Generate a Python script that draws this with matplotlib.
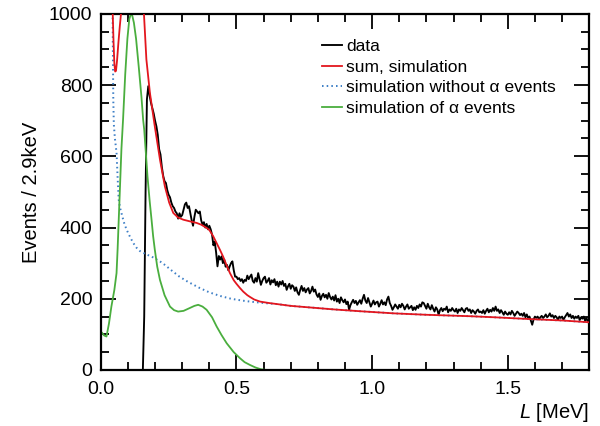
import matplotlib
matplotlib.use("Agg")
import matplotlib.pyplot as plt
from matplotlib.ticker import MultipleLocator
import numpy as np

plt.rcParams["font.family"] = ["Liberation Sans", "DejaVu Sans"]
plt.rcParams["mathtext.fontset"] = "custom"
plt.rcParams["mathtext.it"] = "Liberation Sans:italic"
plt.rcParams["mathtext.rm"] = "Liberation Sans"

# ── measured spectrum, 5 keV steps from 0.150 to 1.800 MeV ───────────────────
data_start, data_stop = 0.150, 1.800
data_counts = [
    0, 0, 150, 500, 760, 797, 770, 750, 735, 720,
    700, 684, 660, 620, 605, 570, 545, 530, 525, 505,
    492, 485, 470, 460, 455, 445, 440, 425, 440, 430,
    435, 450, 465, 470, 455, 460, 440, 420, 405, 430,
    450, 445, 440, 445, 420, 408, 415, 400, 410, 395,
    405, 395, 380, 350, 360, 330, 291, 320, 310, 319,
    300, 310, 290, 295, 280, 291, 300, 305, 280, 262,
    262, 255, 258, 250, 255, 245, 253, 250, 265, 255,
    262, 268, 250, 245, 258, 248, 272, 255, 239, 250,
    258, 262, 245, 250, 258, 240, 252, 246, 255, 238,
    248, 234, 248, 240, 250, 236, 242, 225, 235, 242,
    228, 238, 234, 222, 232, 218, 211, 225, 236, 222,
    230, 218, 226, 230, 215, 222, 234, 220, 226, 212,
    205, 215, 197, 208, 214, 204, 211, 200, 216, 205,
    198, 206, 195, 210, 192, 200, 188, 204, 196, 190,
    198, 185, 192, 169, 182, 190, 197, 188, 194, 183,
    190, 196, 186, 200, 211, 195, 188, 202, 190, 178,
    186, 195, 184, 190, 192, 178, 186, 196, 184, 190,
    182, 198, 206, 188, 180, 169, 176, 184, 178, 172,
    183, 176, 186, 180, 170, 178, 184, 172, 176, 180,
    168, 176, 169, 180, 174, 184, 178, 190, 188, 180,
    172, 186, 176, 170, 182, 172, 164, 176, 170, 155,
    168, 174, 165, 172, 169, 178, 162, 170, 166, 174,
    168, 164, 172, 160, 170, 166, 174, 168, 162, 172,
    174, 166, 170, 160, 168, 164, 158, 166, 170, 162,
    164, 160, 168, 158, 166, 172, 162, 169, 164, 174,
    166, 178, 166, 170, 160, 168, 162, 155, 164, 158,
    155, 162, 156, 166, 160, 152, 158, 164, 160, 154,
    158, 152, 160, 148, 156, 146, 150, 138, 127, 142,
    150, 146, 150, 142, 148, 152, 146, 150, 156, 148,
    152, 159, 150, 154, 146, 152, 148, 141, 150, 146,
    150, 141, 148, 154, 160, 150, 156, 146, 152, 144,
    150, 146, 152, 140, 148, 144, 150, 138, 146, 136,
    131,
]

# ── simulation, sum ───────────────────────────────────────────────────────────
sum_L = [0.000, 0.030, 0.044, 0.047, 0.050, 0.053, 0.056, 0.060, 0.065, 0.070,
         0.075, 0.090, 0.140, 0.155, 0.159, 0.168, 0.181, 0.199, 0.218, 0.236,
         0.252, 0.267, 0.285, 0.304, 0.330, 0.353, 0.370, 0.390, 0.400, 0.414,
         0.427, 0.440, 0.451, 0.463, 0.476, 0.490, 0.500, 0.513, 0.525, 0.540,
         0.550, 0.565, 0.587, 0.620, 0.660, 0.700, 0.780, 0.860, 0.955, 1.080,
         1.200, 1.360, 1.450, 1.580, 1.700, 1.800]
sum_counts = [1400, 1300, 1000, 920, 860, 838, 840, 870, 920, 965,
              1005, 1200, 1300, 1050, 1000, 872, 778, 684, 591, 516,
              470, 441, 428, 422, 417, 413, 408, 399, 393, 376,
              356, 336, 318, 295, 272, 252, 242, 230, 220, 210,
              205, 198, 192, 188, 184, 180, 175, 170, 165, 159,
              155, 151, 148, 143, 139, 134]

# ── simulation without alpha events ──────────────────────────────────────────
noalpha_L = [0.000, 0.043, 0.0445, 0.046, 0.048, 0.052, 0.058, 0.062, 0.066, 0.071,
             0.076, 0.085, 0.095, 0.105, 0.113, 0.122, 0.132, 0.144, 0.156, 0.170,
             0.193, 0.218, 0.236, 0.260, 0.290, 0.320, 0.365, 0.400, 0.439, 0.480,
             0.520, 0.550, 0.600, 0.650, 0.700, 0.780, 0.860, 0.955, 1.080, 1.200,
             1.360, 1.450, 1.580, 1.700, 1.800]
noalpha_counts = [1500, 1050, 900, 760, 690, 650, 610, 540, 478, 455,
                  441, 415, 394, 378, 366, 354, 343, 334, 329, 324,
                  316, 305, 295, 280, 262, 248, 230, 218, 208, 200,
                  195, 192, 188, 185, 180, 175, 170, 165, 159, 155,
                  151, 148, 143, 139, 134]

# ── simulation of alpha events ───────────────────────────────────────────────
alpha_L = [0.005, 0.012, 0.021, 0.030, 0.039, 0.050, 0.058, 0.062, 0.066, 0.070,
           0.076, 0.082, 0.090, 0.098, 0.105, 0.111, 0.116, 0.122, 0.130, 0.140,
           0.150, 0.156, 0.160, 0.166, 0.172, 0.180, 0.187, 0.193, 0.199, 0.208,
           0.218, 0.235, 0.255, 0.270, 0.285, 0.305, 0.328, 0.345, 0.359, 0.375,
           0.390, 0.410, 0.427, 0.445, 0.464, 0.490, 0.513, 0.530, 0.550, 0.570,
           0.590, 0.610, 0.650]
alpha_counts = [104, 97, 94, 130, 178, 225, 272, 340, 420, 500,
                620, 703, 830, 930, 985, 1000, 995, 975, 930, 850,
                765, 703, 675, 610, 544, 475, 422, 375, 338, 290,
                253, 210, 178, 168, 164, 166, 174, 180, 183, 178,
                169, 148, 122, 98, 75, 50, 33, 22, 14, 7,
                2, 0, 0]

fig = plt.figure(figsize=(6.0, 4.26), dpi=100)
ax = fig.add_axes([0.168, 0.1315, 0.814, 0.836])

data_L = np.linspace(data_start, data_stop, len(data_counts))
ax.plot(data_L, data_counts, color="black", lw=1.35, label="data")
ax.plot(noalpha_L, noalpha_counts, color="#3d7fc6", lw=1.4, ls=(0, (0.8, 1.6)),
        label="simulation without \u03b1 events", zorder=2)
ax.plot(sum_L, sum_counts, color="#e3161e", lw=1.3, label="sum, simulation", zorder=3)
ax.plot(alpha_L, alpha_counts, color="#4aae3e", lw=1.3, label="simulation of \u03b1 events")

ax.set_xlim(0, 1.8)
ax.set_ylim(0, 1000)
ax.xaxis.set_major_locator(MultipleLocator(0.5))
ax.xaxis.set_minor_locator(MultipleLocator(0.1))
ax.yaxis.set_major_locator(MultipleLocator(200))
ax.yaxis.set_minor_locator(MultipleLocator(50))
ax.xaxis.set_major_formatter(plt.FuncFormatter(lambda v, p: f"{v:.1f}"))
ax.tick_params(which="both", direction="in", top=True, right=True, width=1.3,
               labelsize=14)
ax.tick_params(axis="x", pad=8)
ax.tick_params(axis="y", pad=6)
ax.tick_params(which="major", length=11)
ax.tick_params(which="minor", length=5.5)
for s in ax.spines.values():
    s.set_linewidth(1.6)

ax.set_ylabel("Events / 2.9keV", fontsize=14.5, labelpad=6)
ax.set_xlabel("$L$ [MeV]", fontsize=14.5, loc="right", labelpad=2)

handles, labels = ax.get_legend_handles_labels()
order = [0, 2, 1, 3]
ax.legend([handles[i] for i in order], [labels[i] for i in order],
          loc="upper left", bbox_to_anchor=(0.452, 0.93), frameon=False,
          fontsize=12.5, handlelength=1.15, handletextpad=0.25, labelspacing=0.32,
          borderpad=0, borderaxespad=0)

fig.savefig("out.png", dpi=100)
